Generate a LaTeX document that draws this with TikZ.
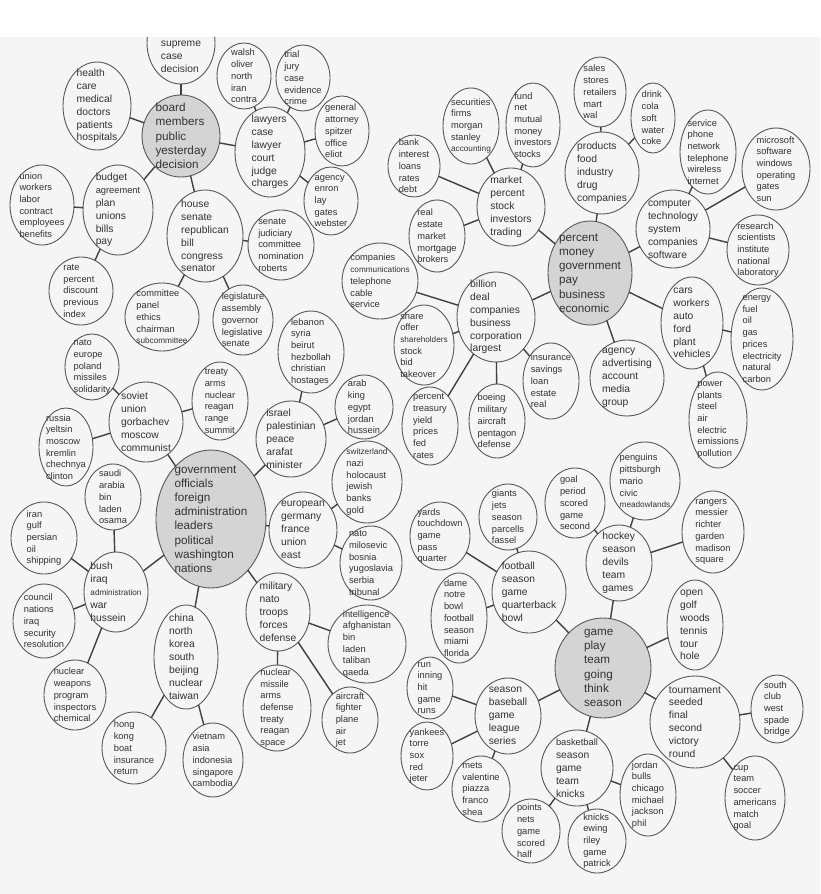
\documentclass[tikz,border=0pt]{standalone}
\usepackage{fontspec}
\setmainfont{Liberation Sans}
\usetikzlibrary{shapes.geometric}
\definecolor{bgc}{HTML}{F5F5F5}
\definecolor{hubc}{HTML}{D4D4D4}
\definecolor{txtc}{HTML}{333333}
\newcommand\tinyw[1]{{\fontsize{8.2}{10}\selectfont #1}}
\newcommand\midw[1]{{\fontsize{9.3}{11}\selectfont #1}}
\tikzset{
  bubble/.style={ellipse, draw=black!65, line width=0.9pt, inner sep=0pt, outer sep=0pt},
  hubshape/.style={bubble, fill=hubc},
  sml/.style={font=\fontsize{9.3}{11.7}\selectfont, align=left, text=txtc, inner sep=0pt},
  med/.style={font=\fontsize{10.3}{12.9}\selectfont, align=left, text=txtc, inner sep=0pt},
  big/.style={font=\fontsize{11.7}{14.2}\selectfont, align=left, text=txtc, inner sep=0pt},
  conn/.style={draw=black!75, line width=1.4pt},
}
\newcommand\bub[7][sml]{%
  \node[bubble, minimum width=#5*2pt, minimum height=#6*2pt] (#2) at (#3,#4) {};
  \node[#1] at (#2.center) {#7};}
\newcommand\hubnode[6]{%
  \node[hubshape, minimum width=#4*2pt, minimum height=#5*2pt] (#1) at (#2,#3) {};
  \node[big] at (#1.center) {#6};}
\begin{document}
\begin{tikzpicture}[x=1pt,y=-1pt]
\useasboundingbox (0,0) rectangle (820,894);
\fill[white] (0,0) rectangle (820,37);
\fill[bgc] (0,37) rectangle (820,894);

% ---------- board cluster ----------
\begin{scope}
\clip (0,37) rectangle (820,894);
\node[bubble, minimum width=68pt, minimum height=82pt] (supreme) at (181,43) {};
\end{scope}
\node[med] at (181,57) {supreme\\case\\decision};
\bub[med]{health}{97}{106}{34}{44}{health\\care\\medical\\doctors\\patients\\hospitals}
\hubnode{board}{181}{136}{39}{41}{board\\members\\public\\yesterday\\decision}
\bub{walsh}{244}{76}{27}{33}{walsh\\oliver\\north\\iran\\contra}
\bub{trial}{303}{78}{27}{33}{trial\\jury\\case\\evidence\\crime}
\bub[med]{lawyers}{270}{152}{35}{45}{lawyers\\case\\lawyer\\court\\judge\\charges}
\bub{general}{342}{131}{27}{35}{general\\attorney\\spitzer\\office\\eliot}
\bub{enron}{331}{201}{27}{34}{agency\\enron\\lay\\gates\\webster}
\bub{judiciary}{281}{245}{33}{35}{senate\\judiciary\\committee\\nomination\\roberts}
\bub[med]{house}{205}{236}{38}{46}{house\\senate\\republican\\bill\\congress\\senator}
\bub[med]{budget}{118}{210}{35}{45}{budget\\\midw{agreement}\\plan\\unions\\bills\\pay}
\bub{union}{42}{205}{32}{40}{union\\workers\\labor\\contract\\employees\\benefits}
\bub{rate}{81}{291}{32}{34}{rate\\percent\\discount\\previous\\index}
\bub{committee}{162}{317}{37}{34}{committee\\panel\\ethics\\chairman\\\tinyw{subcommittee}}
\bub{legis}{243}{320}{30}{35}{legislature\\assembly\\governor\\legislative\\senate}

% ---------- government cluster ----------
\bub{natoeu}{92}{367}{27}{33}{nato\\europe\\poland\\missiles\\solidarity}
\bub[med]{soviet}{146}{422}{37}{40}{soviet\\union\\gorbachev\\moscow\\communist}
\bub{treaty}{220}{401}{28}{39}{treaty\\arms\\nuclear\\reagan\\range\\summit}
\bub{russia}{66}{447}{27}{39}{russia\\yeltsin\\moscow\\kremlin\\chechnya\\clinton}
\bub{saudi}{113}{497}{28}{33}{saudi\\arabia\\bin\\laden\\osama}
\hubnode{govt}{211}{519}{55}{69}{government\\officials\\foreign\\administration\\leaders\\political\\washington\\nations}
\bub{iran}{44}{538}{33}{36}{iran\\gulf\\persian\\oil\\shipping}
\bub[med]{bush}{116}{592}{32}{40}{bush\\iraq\\\tinyw{administration}\\war\\hussein}
\bub{council}{44}{621}{31}{37}{council\\nations\\iraq\\security\\resolution}
\bub{nukes}{75}{695}{31}{35}{nuclear\\weapons\\program\\inspectors\\chemical}
\bub[med]{china}{186}{657}{32}{52}{china\\north\\korea\\south\\beijing\\nuclear\\taiwan}
\bub{hong}{134}{748}{32}{36}{hong\\kong\\boat\\insurance\\return}
\bub{vietnam}{213}{760}{30}{37}{vietnam\\asia\\indonesia\\singapore\\cambodia}
\bub[med]{military}{278}{612}{32}{39}{military\\nato\\troops\\forces\\defense}
\bub{missile}{277}{708}{34}{43}{nuclear\\missile\\arms\\defense\\treaty\\reagan\\space}
\bub{intel}{367}{644}{39}{39}{intelligence\\afghanistan\\bin\\laden\\taliban\\qaeda}
\bub{aircraft}{350}{720}{28}{33}{aircraft\\fighter\\plane\\air\\jet}
\bub{lebanon}{311}{352}{33}{41}{lebanon\\syria\\beirut\\hezbollah\\christian\\hostages}
\bub[med]{israel}{291}{439}{35}{38}{israel\\palestinian\\peace\\arafat\\minister}
\bub{arab}{364}{407}{29}{32}{arab\\king\\egypt\\jordan\\hussein}
\bub{swiss}{367}{482}{35}{41}{\tinyw{switzerland}\\nazi\\holocaust\\jewish\\banks\\gold}
\bub[med]{european}{303}{530}{34}{38}{european\\germany\\france\\union\\east}
\bub{balkan}{371}{563}{31}{37}{nato\\milosevic\\bosnia\\yugoslavia\\serbia\\tribunal}

% ---------- economy cluster ----------
\bub{securities}{471}{126}{28}{38}{securities\\firms\\morgan\\stanley\\\tinyw{accounting}}
\bub{fund}{533}{125}{27}{42}{fund\\net\\mutual\\money\\investors\\stocks}
\bub{bank}{414}{166}{26}{31}{bank\\interest\\loans\\rates\\debt}
\bub[med]{market}{511}{207}{34}{39}{market\\percent\\stock\\investors\\trading}
\bub{realestate}{437}{236}{28}{36}{real\\estate\\market\\mortgage\\brokers}
\bub{telecom}{380}{281}{38}{38}{companies\\\tinyw{communications}\\telephone\\cable\\service}
\bub[med]{billion}{496}{317}{39}{45}{billion\\deal\\companies\\business\\corporation\\largest}
\bub{share}{424}{345}{30}{40}{share\\offer\\\tinyw{shareholders}\\stock\\bid\\takeover}
\bub{treasury}{430}{426}{28}{39}{percent\\treasury\\yield\\prices\\fed\\rates}
\bub{boeing}{497}{421}{28}{37}{boeing\\military\\aircraft\\pentagon\\defense}
\bub{insurance}{551}{381}{28}{38}{insurance\\savings\\loan\\estate\\real}
\hubnode{pmoney}{590}{273}{42}{52}{percent\\money\\government\\pay\\business\\economic}
\bub{sales}{600}{92}{26}{35}{sales\\stores\\retailers\\mart\\wal}
\bub{drink}{653}{118}{22}{35}{drink\\cola\\soft\\water\\coke}
\bub[med]{products}{602}{173}{37}{41}{products\\food\\industry\\drug\\companies}
\bub{service}{708}{152}{28}{42}{service\\phone\\network\\telephone\\wireless\\internet}
\bub{microsoft}{776}{169}{34}{41}{microsoft\\software\\windows\\operating\\gates\\sun}
\bub[med]{computer}{673}{229}{37}{39}{computer\\technology\\system\\companies\\software}
\bub{research}{758}{250}{31}{35}{research\\scientists\\institute\\national\\laboratory}
\bub[med]{cars}{692}{323}{31}{46}{cars\\workers\\auto\\ford\\plant\\vehicles}
\bub{energy}{762}{339}{31}{51}{energy\\fuel\\oil\\gas\\prices\\electricity\\natural\\carbon}
\bub[med]{advert}{627}{378}{37}{38}{agency\\advertising\\account\\media\\group}
\bub{power}{718}{420}{29}{48}{power\\plants\\steel\\air\\electric\\emissions\\pollution}

% ---------- sports cluster ----------
\bub{penguins}{645}{481}{35}{39}{penguins\\pittsburgh\\mario\\civic\\\tinyw{meadowlands}}
\bub{goal}{575}{503}{30}{35}{goal\\period\\scored\\game\\second}
\bub{giants}{508}{517}{29}{33}{giants\\jets\\season\\parcells\\fassel}
\bub{yards}{440}{536}{30}{34}{yards\\touchdown\\game\\pass\\quarter}
\bub[med]{hockey}{619}{563}{33}{38}{hockey\\season\\devils\\team\\games}
\bub{rangers}{713}{532}{31}{41}{rangers\\messier\\richter\\garden\\madison\\square}
\bub[med]{football}{529}{592}{37}{41}{football\\season\\game\\quarterback\\bowl}
\bub{dame}{459}{618}{28}{45}{dame\\notre\\bowl\\football\\season\\miami\\florida}
\bub[med]{golf}{695}{625}{28}{45}{open\\golf\\woods\\tennis\\tour\\hole}
\hubnode{game}{603}{668}{48}{50}{game\\play\\team\\going\\think\\season}
\bub{run}{430}{688}{23}{31}{run\\inning\\hit\\game\\runs}
\bub[med]{baseball}{508}{716}{33}{38}{season\\baseball\\game\\league\\series}
\bub{yankees}{427}{756}{26}{34}{yankees\\torre\\sox\\red\\jeter}
\bub{mets}{481}{789}{29}{33}{mets\\valentine\\piazza\\franco\\shea}
\bub[med]{basketball}{577}{768}{36}{38}{\midw{basketball}\\season\\game\\team\\knicks}
\bub{points}{531}{831}{29}{32}{points\\nets\\game\\scored\\half}
\bub{knicks}{597}{841}{29}{32}{knicks\\ewing\\riley\\game\\patrick}
\bub{jordan}{648}{795}{28}{41}{jordan\\bulls\\chicago\\michael\\jackson\\phil}
\bub[med]{tournament}{695}{722}{45}{46}{tournament\\seeded\\final\\second\\victory\\round}
\bub{south}{777}{709}{26}{34}{south\\club\\west\\spade\\bridge}
\bub{cup}{755}{798}{30}{42}{cup\\team\\soccer\\americans\\match\\goal}

% ---------- connectors ----------
\foreach \a/\b in {board/supreme, board/health, board/lawyers, board/budget, board/house,
  lawyers/walsh, lawyers/trial, lawyers/general, lawyers/enron,
  house/judiciary, house/committee, house/legis, budget/union, budget/rate,
  govt/soviet, govt/israel, govt/european, govt/military, govt/china, govt/bush,
  soviet/natoeu, soviet/treaty, soviet/russia, israel/lebanon, israel/arab,
  european/swiss, european/balkan, military/intel, military/missile, military/aircraft,
  bush/saudi, bush/iran, bush/council, bush/nukes, china/hong, china/vietnam,
  pmoney/market, pmoney/products, pmoney/computer, pmoney/cars, pmoney/advert, pmoney/billion,
  market/securities, market/fund, market/bank, market/realestate,
  products/sales, products/drink, computer/service, computer/microsoft, computer/research,
  cars/energy, cars/power, billion/telecom, billion/share, billion/treasury, billion/boeing, billion/insurance,
  game/football, game/hockey, game/golf, game/tournament, game/basketball, game/baseball,
  football/giants, football/yards, football/dame, hockey/goal, hockey/penguins, hockey/rangers,
  baseball/run, baseball/yankees, baseball/mets, basketball/points, basketball/knicks, basketball/jordan,
  tournament/south, tournament/cup}
  \draw[conn] (\a) -- (\b);
\end{tikzpicture}
\end{document}
